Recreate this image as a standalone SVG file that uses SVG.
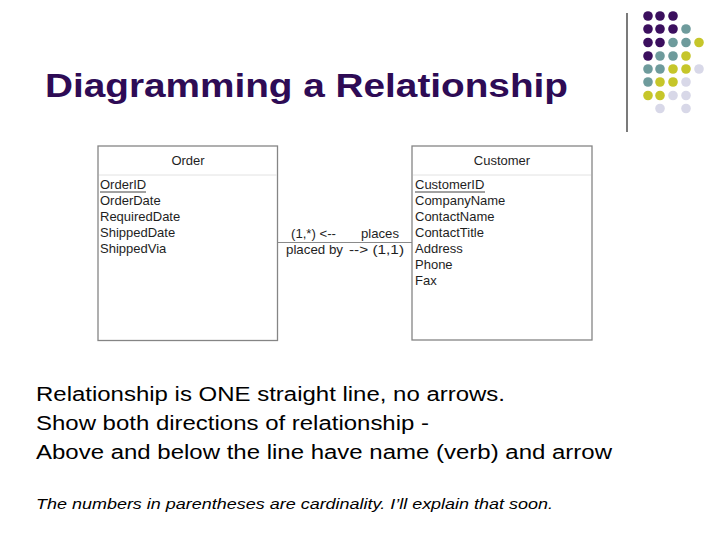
<svg xmlns="http://www.w3.org/2000/svg" width="720" height="540" viewBox="0 0 720 540">
<style>
.title{font-family:"Liberation Sans",Arial,sans-serif;font-weight:bold;font-size:34px;fill:#2e0b55}
.body{font-family:"Liberation Sans",Arial,sans-serif;font-size:20px;fill:#000}
.note{font-family:"Liberation Sans",Arial,sans-serif;font-size:14px;font-style:italic;fill:#000}
.box{fill:#fff;stroke:#858585;stroke-width:1.3}
.sep{stroke:#e2e2e2;stroke-width:1}
.hdr{font-family:"Liberation Sans",Arial,sans-serif;font-size:13px;fill:#1e1e1e;text-anchor:middle}
.fld{font-family:"Liberation Sans",Arial,sans-serif;font-size:13px;fill:#1e1e1e}
.ul{stroke:#444;stroke-width:1}
.lbl{font-family:"Liberation Sans",Arial,sans-serif;font-size:13.4px;fill:#1e1e1e}
.p{fill:#3b0f5e}.t{fill:#6e9b9c}.y{fill:#c6c62a}.l{fill:#d8d8e8}
</style>
<rect width="720" height="540" fill="#fff"/>
<g id="decor">
<line x1="627" y1="13" x2="627" y2="132" stroke="#222" stroke-width="1.2"/>
<g>
<circle class="p" cx="648" cy="16" r="4.8"/><circle class="p" cx="660" cy="16" r="4.8"/><circle class="p" cx="673" cy="16" r="4.8"/>
<circle class="p" cx="648" cy="29" r="4.8"/><circle class="p" cx="660" cy="29" r="4.8"/><circle class="p" cx="673" cy="29" r="4.8"/><circle class="t" cx="686" cy="29" r="4.8"/>
<circle class="p" cx="648" cy="42.5" r="4.8"/><circle class="p" cx="660" cy="42.5" r="4.8"/><circle class="t" cx="673" cy="42.5" r="4.8"/><circle class="t" cx="686" cy="42.5" r="4.8"/><circle class="y" cx="699" cy="42.5" r="4.8"/>
<circle class="p" cx="648" cy="56" r="4.8"/><circle class="t" cx="660" cy="56" r="4.8"/><circle class="t" cx="673" cy="56" r="4.8"/><circle class="y" cx="686" cy="56" r="4.8"/>
<circle class="t" cx="648" cy="69" r="4.8"/><circle class="t" cx="660" cy="69" r="4.8"/><circle class="y" cx="673" cy="69" r="4.8"/><circle class="y" cx="686" cy="69" r="4.8"/><circle class="l" cx="699" cy="69" r="4.8"/>
<circle class="t" cx="648" cy="82" r="4.8"/><circle class="y" cx="660" cy="82" r="4.8"/><circle class="y" cx="673" cy="82" r="4.8"/><circle class="l" cx="686" cy="82" r="4.8"/>
<circle class="y" cx="648" cy="95.5" r="4.8"/><circle class="y" cx="660" cy="95.5" r="4.8"/><circle class="l" cx="673" cy="95.5" r="4.8"/><circle class="l" cx="686" cy="95.5" r="4.8"/>
<circle class="l" cx="660" cy="108.5" r="4.8"/><circle class="l" cx="686" cy="108.5" r="4.8"/>
</g>
</g>
<text class="title" x="45" y="97" textLength="523" lengthAdjust="spacingAndGlyphs">Diagramming a Relationship</text>
<g id="connectors">
<line x1="278" y1="242.5" x2="412" y2="242.5" stroke="#8a8a8a" stroke-width="1"/>
<text class="lbl" x="291" y="238" textLength="45" lengthAdjust="spacingAndGlyphs">(1,*) &lt;--</text>
<text class="lbl" x="361" y="238" textLength="38" lengthAdjust="spacingAndGlyphs">places</text>
<text class="lbl" x="286" y="254" textLength="57" lengthAdjust="spacingAndGlyphs">placed by</text>
<text class="lbl" x="349" y="254" textLength="55" lengthAdjust="spacingAndGlyphs">--&gt; (1,1)</text>
</g>
<g id="order">
<rect class="box" x="98" y="146" width="179.5" height="194.5"/>
<line class="sep" x1="99" y1="175" x2="277" y2="175"/>
<text class="hdr" x="188" y="165">Order</text>
<text class="fld" x="100" y="189">OrderID</text>
<line class="ul" x1="100" y1="192" x2="146" y2="192"/>
<text class="fld" x="100" y="205">OrderDate</text>
<text class="fld" x="100" y="221">RequiredDate</text>
<text class="fld" x="100" y="237">ShippedDate</text>
<text class="fld" x="100" y="253">ShippedVia</text>
</g>
<g id="customer">
<rect class="box" x="412" y="146" width="180" height="194"/>
<line class="sep" x1="413" y1="175" x2="591" y2="175"/>
<text class="hdr" x="502" y="165">Customer</text>
<text class="fld" x="415" y="189">CustomerID</text>
<line class="ul" x1="415" y1="192" x2="485" y2="192"/>
<text class="fld" x="415" y="205">CompanyName</text>
<text class="fld" x="415" y="221">ContactName</text>
<text class="fld" x="415" y="237">ContactTitle</text>
<text class="fld" x="415" y="253">Address</text>
<text class="fld" x="415" y="269">Phone</text>
<text class="fld" x="415" y="285">Fax</text>
</g>
<text class="body" x="36" y="401" textLength="469" lengthAdjust="spacingAndGlyphs">Relationship is ONE straight line, no arrows.</text>
<text class="body" x="36" y="430" textLength="393" lengthAdjust="spacingAndGlyphs">Show both directions of relationship -</text>
<text class="body" x="36" y="459" textLength="576" lengthAdjust="spacingAndGlyphs">Above and below the line have name (verb) and arrow</text>
<text class="note" x="36" y="509" textLength="517" lengthAdjust="spacingAndGlyphs">The numbers in parentheses are cardinality. I’ll explain that soon.</text>
</svg>
